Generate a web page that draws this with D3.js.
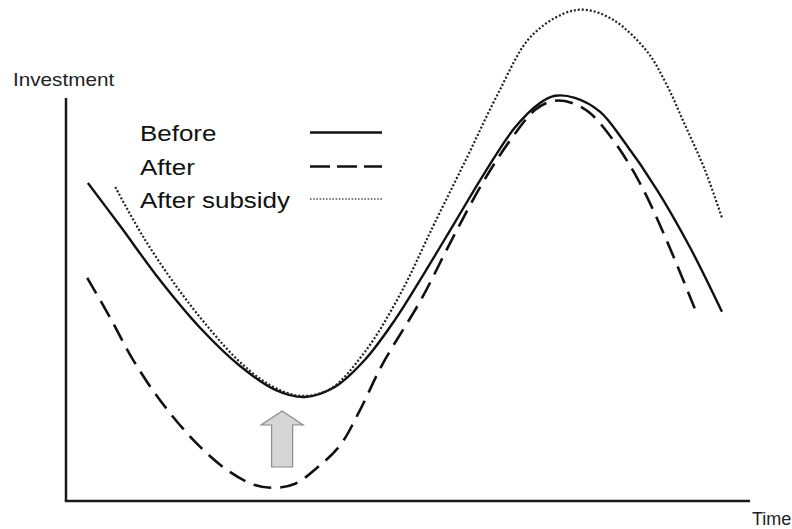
<!DOCTYPE html>
<html>
<head>
<meta charset="utf-8">
<script src="https://cdn.jsdelivr.net/npm/d3@7"></script>
<style>
  html, body { margin: 0; padding: 0; background: #fff; }
  svg { display: block; }
</style>
</head>
<body>
<svg id="chart" width="792" height="529"></svg>
<script>
// ---- data (time 0..10, investment in arbitrary units) ----
const beforeT = [0.32, 0.79, 1.37, 1.96, 2.54, 3.06, 3.49, 3.93, 4.37, 4.81, 5.25, 5.69, 6.13, 6.56, 6.93, 7.15, 7.44, 7.81, 8.14, 8.64, 9.12, 9.59];
const beforeV = [7.95, 6.88, 5.53, 4.33, 3.38, 2.78, 2.60, 2.85, 3.53, 4.53, 5.73, 6.98, 8.23, 9.33, 9.95, 10.13, 10.08, 9.73, 9.03, 7.78, 6.35, 4.73];

const afterT = [0.31, 0.64, 0.98, 1.37, 1.86, 2.35, 2.76, 3.06, 3.35, 3.67, 4.01, 4.30, 4.63, 5.19, 5.64, 6.10, 6.52, 6.86, 7.12, 7.40, 7.66, 8.03, 8.39, 8.76, 9.20];
const afterV = [5.58, 4.60, 3.53, 2.53, 1.53, 0.78, 0.40, 0.33, 0.43, 0.83, 1.40, 2.28, 3.43, 5.03, 6.53, 7.98, 9.08, 9.78, 10.00, 9.95, 9.70, 8.95, 7.95, 6.60, 4.78];

const subsidyT = [0.72, 1.13, 1.62, 2.11, 2.54, 2.98, 3.42, 3.86, 4.37, 4.88, 5.37, 5.86, 6.30, 6.78, 7.27, 7.59, 8.00, 8.49, 8.76, 9.05, 9.34, 9.59];
const subsidyV = [7.85, 6.60, 5.35, 4.28, 3.48, 2.90, 2.63, 2.80, 3.73, 5.15, 6.88, 8.58, 10.13, 11.58, 12.18, 12.28, 12.03, 11.25, 10.48, 9.40, 8.28, 7.08];

const seriesNames = ["Before", "After", "After subsidy"];
const axisLabels = { y: "Investment", x: "Time" };
// subsidy arrow: tip, head base and tail levels (investment units) at a time point
const arrowT = 3.16, arrowTip = 2.25, arrowHeadBase = 1.9, arrowTail = 0.85;

// ---- setup ----
const svg = d3.select("#chart");
const x = d3.scaleLinear().domain([0, 10]).range([66, 750]);
const y = d3.scaleLinear().domain([0, 10]).range([501, 101]);
const FONT = "Liberation Sans, Arial, sans-serif";

const styles = [
  { dash: null, width: 2.4, color: "#111" },
  { dash: "18,9", width: 2.6, color: "#111" },
  { dash: "2,2", width: 2.2, color: "#222" }
];

const series = [
  d3.zip(beforeT, beforeV),
  d3.zip(afterT, afterV),
  d3.zip(subsidyT, subsidyV)
];

// axes
const axisG = svg.append("g");
axisG.append("line")
  .attr("x1", x(0)).attr("x2", x(0))
  .attr("y1", y(10) - 3).attr("y2", y(0))
  .attr("stroke", "#1a1a1a").attr("stroke-width", 2.5);
axisG.append("line")
  .attr("x1", x(0) - 1.2).attr("x2", x(10))
  .attr("y1", y(0)).attr("y2", y(0))
  .attr("stroke", "#1a1a1a").attr("stroke-width", 2.5);

svg.append("text")
  .attr("transform", "translate(13,86) scale(1.15,1)")
  .attr("font-family", FONT)
  .attr("font-size", 18)
  .attr("fill", "#222")
  .text(axisLabels.y);

svg.append("text")
  .attr("transform", "translate(752,525) scale(1.0,1)")
  .attr("font-family", FONT)
  .attr("font-size", 18)
  .attr("fill", "#222")
  .text(axisLabels.x);

// curves
const line = d3.line()
  .x(d => x(d[0]))
  .y(d => y(d[1]))
  .curve(d3.curveCatmullRom.alpha(0.5));

series.forEach((s, i) => {
  svg.append("path")
    .datum(s)
    .attr("d", line)
    .attr("fill", "none")
    .attr("stroke", styles[i].color)
    .attr("stroke-width", styles[i].width)
    .attr("stroke-dasharray", styles[i].dash)
    .attr("stroke-linejoin", "round");
});

// arrow
const ax = x(arrowT);
const headHalf = 21, shaftHalf = 10.5;
const arrowPts = [
  [ax, y(arrowTip)],
  [ax + headHalf, y(arrowHeadBase)],
  [ax + shaftHalf, y(arrowHeadBase)],
  [ax + shaftHalf, y(arrowTail)],
  [ax - shaftHalf, y(arrowTail)],
  [ax - shaftHalf, y(arrowHeadBase)],
  [ax - headHalf, y(arrowHeadBase)]
];
svg.append("path")
  .attr("d", "M" + arrowPts.map(p => p.join(",")).join("L") + "Z")
  .attr("fill", "#d6d6d6")
  .attr("stroke", "#8a8a8a")
  .attr("stroke-width", 1.2)
  .attr("stroke-linejoin", "miter");

// legend
const legendY = [141, 175, 208];
const legend = svg.append("g");
seriesNames.forEach((name, i) => {
  legend.append("text")
    .attr("transform", `translate(140,${legendY[i]}) scale(1.18,1)`)
    .attr("font-family", FONT)
    .attr("font-size", 22)
    .attr("fill", "#111")
    .text(name);
  const ly = legendY[i] - 8.5 - (i === 2 ? 0.5 : 0);
  legend.append("line")
    .attr("x1", 310).attr("x2", 382)
    .attr("y1", ly).attr("y2", ly)
    .attr("stroke", i === 2 ? "#555" : "#111")
    .attr("stroke-width", i === 2 ? 1.3 : 2.6)
    .attr("stroke-dasharray", i === 1 ? "20,7" : (i === 2 ? "1.6,1.6" : null));
});
</script>
</body>
</html>
